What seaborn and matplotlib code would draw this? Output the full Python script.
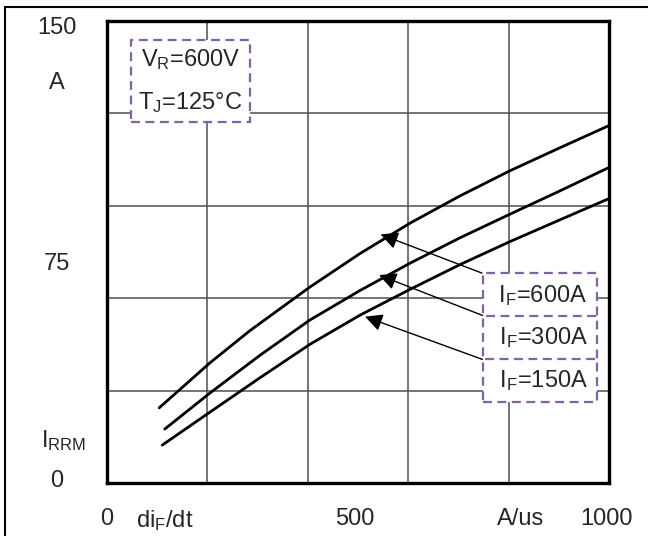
import pandas as pd
import seaborn as sns
import matplotlib.pyplot as plt
from matplotlib.lines import Line2D

# Data (di/dt in A/us, IRRM in A)
di_600 = [104, 205, 285, 404, 504, 604, 703, 803, 903, 998]
irrm_600 = [24.4, 39.0, 49.5, 63.6, 74.5, 84.4, 93.2, 101.4, 108.9, 115.9]
di_300 = [115, 205, 305, 404, 504, 604, 703, 803, 903, 998]
irrm_300 = [17.5, 29.2, 41.5, 52.9, 62.5, 71.4, 79.6, 87.3, 94.9, 102.3]
di_150 = [110, 205, 305, 404, 504, 604, 703, 803, 903, 998]
irrm_150 = [12.3, 23.0, 34.2, 45.0, 54.5, 62.9, 70.9, 78.4, 85.5, 92.2]

series_names = ["600A", "300A", "150A"]
label_texts = [" I$_F$=600A ", " I$_F$=300A ", " I$_F$=150A "]
arrow_tips = [(545, 80.7), (542, 67.5), (514, 54.0)]
label_pos = [(862, 61.0), (863, 47.1), (863, 33.3)]

x_ticks = [0, 115, 494, 823, 996]
x_ticklabels = ["0", "di$_F$/dt", "500", "A/us", "1000"]
y_ticks = [148.5, 130.8, 71.8, 14.9, 1.3]
y_ticklabels = ["150", "A", "75", "  I$_{RRM}$", "0"]

df = pd.concat([
    pd.DataFrame({"di": di_600, "irrm": irrm_600, "IF": "600A"}),
    pd.DataFrame({"di": di_300, "irrm": irrm_300, "IF": "300A"}),
    pd.DataFrame({"di": di_150, "irrm": irrm_150, "IF": "150A"}),
])

sns.set_style("white")
plt.rcParams["font.family"] = ["Liberation Sans", "DejaVu Sans"]
plt.rcParams["mathtext.default"] = "regular"
plt.rcParams["mathtext.fontset"] = "custom"
plt.rcParams["mathtext.rm"] = "Liberation Sans"

fig = plt.figure(figsize=(6.48, 5.36), dpi=100)
ax = fig.add_axes([107 / 648, 53 / 536, 502 / 648, 462 / 536])

sns.lineplot(data=df, x="di", y="irrm", hue="IF", palette={n: "black" for n in series_names},
             legend=False, sort=False, estimator=None, linewidth=2.0, ax=ax, zorder=3)

ax.set_xlim(0, 1000)
ax.set_ylim(0, 150)
ax.set_xticks([200, 400, 600, 800], minor=True)
ax.set_yticks([30, 60, 90, 120], minor=True)
ax.grid(which="minor", color="#505050", linewidth=1.1, zorder=1)
ax.grid(which="major", visible=False)

ax.set_xticks(x_ticks, x_ticklabels, fontsize=17)
ax.set_yticks(y_ticks, y_ticklabels, fontsize=17)
for t in ax.get_yticklabels():
    t.set_horizontalalignment("center")
ax.tick_params(axis="both", which="both", length=0)
ax.tick_params(axis="y", pad=36)
ax.tick_params(axis="x", pad=18)
ax.set_xlabel("")
ax.set_ylabel("")

for s in ax.spines.values():
    s.set_color("black")
    s.set_linewidth(2.4)
    s.set_zorder(5)

dash = (0, (4, 2.5))
box_style = dict(boxstyle="square,pad=0.4", fc="white", ec="#8064A2", ls=dash, lw=1.6)

ax.text(166, 130.5, "V$_R$=600V\nT$_J$=125°C", fontsize=17, ha="center", va="center",
        linespacing=1.95, bbox=dict(boxstyle="square,pad=0.3", fc="white", ec="#8064A2",
                                     ls=dash, lw=1.6), zorder=4)

for txt, tip, pos in zip(label_texts, arrow_tips, label_pos):
    ax.annotate(txt, xy=tip, xytext=pos, fontsize=17, ha="center", va="center",
                bbox=box_style, zorder=4,
                arrowprops=dict(arrowstyle="-|>,head_length=0.7,head_width=0.35",
                                mutation_scale=15, color="black", lw=1.0,
                                shrinkA=0, shrinkB=0))

# outer frame of the figure
fig.add_artist(Line2D([5 / 648, 1], [1 - 7 / 536, 1 - 7 / 536], color="black",
                      linewidth=1.5, transform=fig.transFigure))
fig.add_artist(Line2D([5 / 648, 5 / 648], [0, 1 - 7 / 536], color="black",
                      linewidth=1.5, transform=fig.transFigure))

fig.savefig("out.png", dpi=100)
